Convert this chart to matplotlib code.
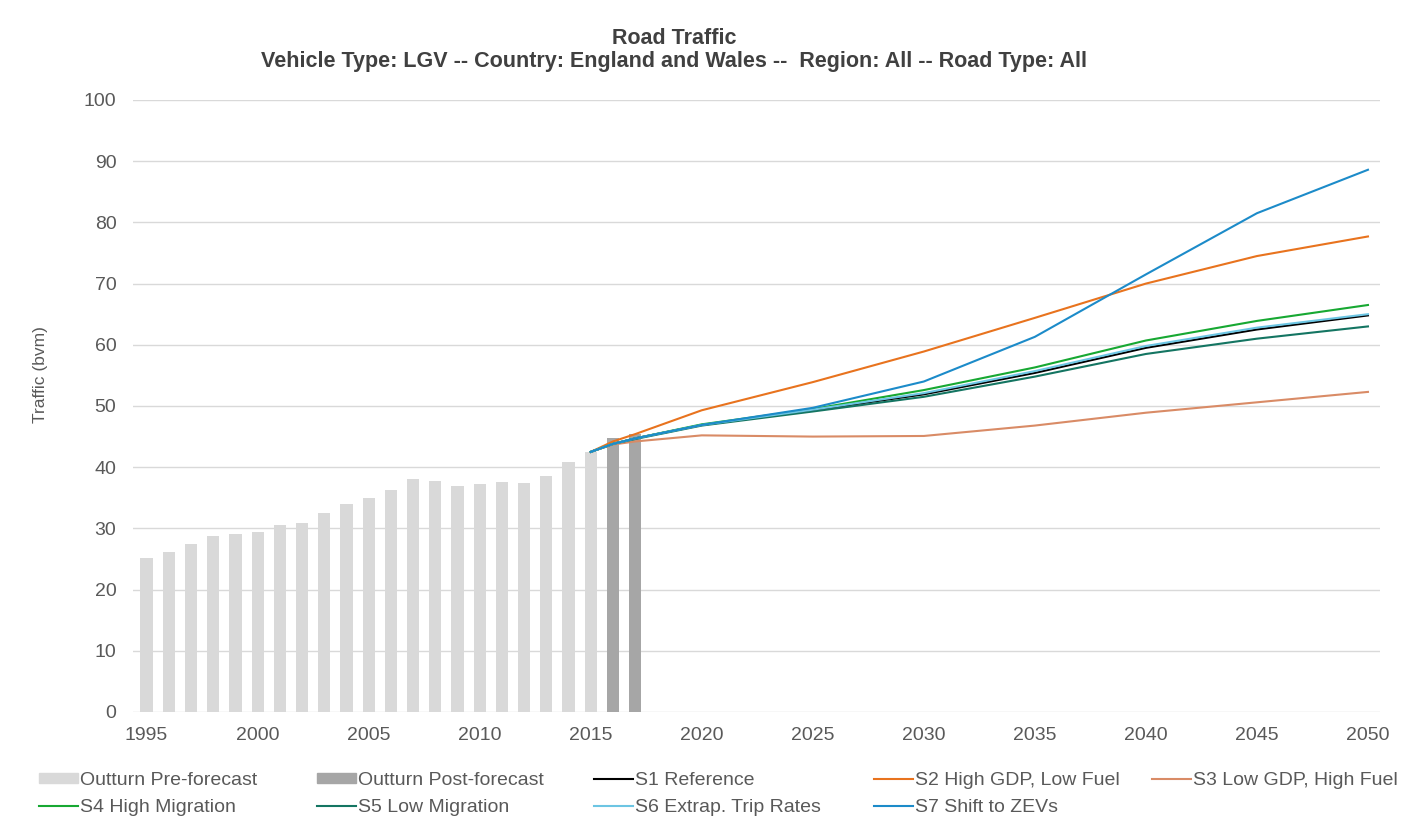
import matplotlib.pyplot as plt
from matplotlib.lines import Line2D
from matplotlib.patches import Patch

# Outturn bars
bar_years_pre = list(range(1995, 2016))
bar_vals_pre = [25.1, 26.1, 27.5, 28.8, 29.0, 29.4, 30.5, 30.8, 32.5, 34.0, 34.9,
                36.3, 38.1, 37.7, 36.9, 37.2, 37.6, 37.4, 38.5, 40.8, 42.4]
bar_years_post = [2016, 2017]
bar_vals_post = [44.7, 45.5]

# Scenario forecasts
scen_years = [2015, 2016, 2017, 2020, 2025, 2030, 2035, 2040, 2045, 2050]
s1 = [42.5, 43.8, 44.7, 46.9, 49.3, 51.9, 55.4, 59.5, 62.5, 64.8]
s2 = [42.5, 44.2, 45.4, 49.3, 53.9, 58.9, 64.4, 70.0, 74.5, 77.7]
s3 = [42.5, 43.7, 44.2, 45.2, 45.0, 45.1, 46.8, 48.9, 50.6, 52.3]
s4 = [42.5, 43.8, 44.7, 47.0, 49.5, 52.6, 56.3, 60.7, 63.9, 66.5]
s5 = [42.5, 43.8, 44.6, 46.8, 49.1, 51.5, 54.8, 58.5, 61.0, 63.0]
s6 = [42.5, 43.8, 44.7, 46.9, 49.4, 52.1, 55.7, 59.8, 62.8, 65.0]
s7 = [42.5, 43.8, 44.7, 46.9, 49.7, 54.0, 61.3, 71.5, 81.5, 88.6]

scen_names = ['S1 Reference', 'S2 High GDP, Low Fuel', 'S3 Low GDP, High Fuel',
              'S4 High Migration', 'S5 Low Migration', 'S6 Extrap. Trip Rates',
              'S7 Shift to ZEVs']
scen_colors = ['#000000', '#E8731E', '#D98B66', '#17A832', '#147562', '#6CC5E3', '#1C8BC9']

plt.rcParams['font.family'] = ['Liberation Sans', 'DejaVu Sans']

fig = plt.figure(figsize=(14.2, 8.21), dpi=100)
ax = fig.add_axes([0.0937, 0.1328, 0.9718 - 0.0937, 0.8782 - 0.1328])

ax.bar(bar_years_pre, bar_vals_pre, width=0.55, color='#D9D9D9', zorder=2)
ax.bar(bar_years_post, bar_vals_post, width=0.55, color='#A6A6A6', zorder=2)
for vals, c in zip([s1, s2, s3, s4, s5, s6, s7], scen_colors):
    ax.plot(scen_years, vals, color=c, lw=1.5, zorder=3)

ax.set_xlim(1994.39, 2050.54)
ax.set_ylim(0, 100)
ax.set_xticks(range(1995, 2051, 5))
ax.set_yticks(range(0, 101, 10))
ax.grid(axis='y', color='#D9D9D9', lw=1, zorder=0)
ax.set_axisbelow(True)
for s in ax.spines.values():
    s.set_visible(False)
ax.tick_params(length=0, labelsize=14, labelcolor='#595959')
ax.tick_params(axis='y', pad=12)
ax.tick_params(axis='x', pad=11)

fig.text(40 / 1420, 1 - 375 / 821, 'Traffic (bvm)', rotation=90, ha='center', va='center',
         fontsize=12.5, color='#595959')

fig.text(674 / 1420, 1 - 39 / 821, 'Road Traffic', ha='center', va='center',
         fontsize=15.5, fontweight='bold', color='#404040')
fig.text(674 / 1420, 1 - 62 / 821,
         'Vehicle Type: LGV -- Country: England and Wales --  Region: All -- Road Type: All',
         ha='center', va='center', fontsize=15.5, fontweight='bold', color='#404040')

# legend, five columns laid out like the original
pre_h = Patch(color='#D9D9D9')
post_h = Patch(color='#A6A6A6')
line_h = [Line2D([], [], color=c, lw=1.5) for c in scen_colors]
columns = [
    ([pre_h, line_h[3]], ['Outturn Pre-forecast', scen_names[3]]),
    ([post_h, line_h[4]], ['Outturn Post-forecast', scen_names[4]]),
    ([line_h[0], line_h[5]], [scen_names[0], scen_names[5]]),
    ([line_h[1], line_h[6]], [scen_names[1], scen_names[6]]),
    ([line_h[2]], [scen_names[2]]),
]
col_x = [39, 317, 594, 874, 1152]
for (hs, ls), x in zip(columns, col_x):
    leg = fig.legend(hs, ls, loc='upper left', bbox_to_anchor=(x / 1420, 1 - 772 / 821),
                     frameon=False, borderpad=0, borderaxespad=0, handlelength=2.0,
                     handletextpad=0.1, labelspacing=0.5, handleheight=0.45,
                     prop={'size': 14})
    for t in leg.get_texts():
        t.set_color('#595959')

fig.savefig('out.png', dpi=100)
